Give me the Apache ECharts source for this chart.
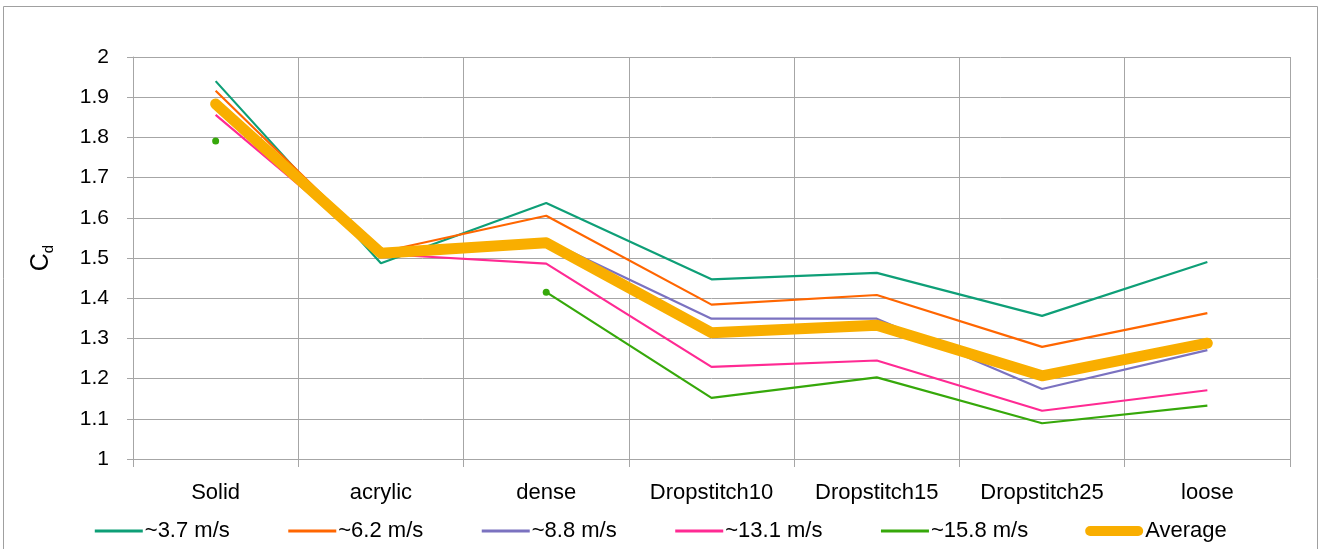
<!DOCTYPE html>
<html>
<head>
<meta charset="utf-8">
<title>Drag coefficient by fabric</title>
<script src="https://cdn.jsdelivr.net/npm/echarts@6/dist/echarts.min.js"></script>
<style>
  html, body { margin: 0; padding: 0; background: #fff; }
  #chart { width: 1320px; height: 549px; }
</style>
</head>
<body>
<div id="chart"></div>
<script>
// Fabric samples along the x axis
const categories = ['Solid', 'acrylic', 'dense', 'Dropstitch10', 'Dropstitch15', 'Dropstitch25', 'loose'];

// Drag coefficient per wind speed
const cd37  = [1.940, 1.487, 1.637, 1.447, 1.463, 1.356, 1.490];
const cd62  = [1.916, 1.515, 1.605, 1.384, 1.408, 1.279, 1.363];
const cd88  = [1.888, 1.512, 1.545, 1.349, 1.349, 1.174, 1.271];
const cd131 = [1.856, 1.510, 1.486, 1.229, 1.245, 1.120, 1.171];
const cd158 = [1.791, null,  1.415, 1.152, 1.203, 1.089, 1.133];
const cdAvg = [1.883, 1.512, 1.538, 1.314, 1.333, 1.207, 1.288];

const seriesNames = ['~3.7 m/s', '~6.2 m/s', '~8.8 m/s', '~13.1 m/s', '~15.8 m/s', 'Average'];
const colors = ['#0E9F77', '#FF6600', '#7B72C0', '#FF2A93', '#36A80A', '#F9AE00'];
const FONT = 'Liberation Sans';
const GRID_GRAY = '#A6A6A6';

function thin(name, data, color) {
  return {
    name, type: 'line', data, symbol: 'none', connectNulls: false,
    lineStyle: { color, width: 2.2 }, itemStyle: { color },
    emphasis: { disabled: true }, animation: false
  };
}

// points that start a segment after a gap get a dot
const cd158Data = cd158.map((v, i) =>
  (i === 0 || i === 2) ? { value: v, symbol: 'circle', symbolSize: 7 } : v);

// legend entries: plain line swatches, the average one thick with round ends
const legendData = seriesNames.map((name, i) => i === 5
  ? {
      name,
      itemStyle: { opacity: 0 },
      lineStyle: { width: 10, cap: 'round', color: colors[i] },
      textStyle: { padding: [0, 0, 0, 2] }
    }
  : {
      name,
      itemStyle: { opacity: 0 },
      lineStyle: { width: 3, color: colors[i] }
    });

const chart = echarts.init(document.getElementById('chart'), null, { renderer: 'canvas' });
chart.setOption({
  backgroundColor: '#fff',
  animation: false,
  textStyle: { fontFamily: FONT },
  graphic: [{
    type: 'rect', silent: true, z: -10,
    shape: { x: 3.5, y: 6.5, width: 1314, height: 600 },
    style: { fill: 'none', stroke: '#A0A0A0', lineWidth: 1 }
  }],
  grid: { left: 133, right: 30, top: 57, bottom: 90, containLabel: false },
  legend: {
    bottom: 2, left: 'center',
    itemWidth: 48, itemHeight: 20, itemGap: 57,
    itemStyle: { opacity: 0 },
    textStyle: { fontFamily: FONT, fontSize: 22, color: '#000', padding: [0, 0, 0, -3] },
    data: legendData
  },
  xAxis: {
    type: 'category', data: categories, boundaryGap: true,
    axisLine: { show: true, lineStyle: { color: GRID_GRAY, width: 1 } },
    axisTick: { show: true, length: 8, lineStyle: { color: GRID_GRAY } },
    axisLabel: { fontFamily: FONT, fontSize: 22, color: '#000', margin: 23, interval: 0 },
    splitLine: { show: true, interval: 0, lineStyle: { color: GRID_GRAY, width: 1 } }
  },
  yAxis: {
    type: 'value', min: 1, max: 2, interval: 0.1,
    name: '{c|C}{d|d}',
    nameLocation: 'middle', nameRotate: 90, nameGap: 77,
    nameTextStyle: {
      rich: {
        c: { fontFamily: FONT, fontSize: 25, color: '#000' },
        d: { fontFamily: FONT, fontSize: 15, color: '#000', padding: [14, 0, 0, 0] }
      }
    },
    axisLine: { show: true, lineStyle: { color: GRID_GRAY, width: 1 } },
    axisTick: { show: true, length: 6, lineStyle: { color: GRID_GRAY } },
    axisLabel: {
      fontFamily: FONT, fontSize: 21, color: '#000', margin: 24,
      formatter: v => String(Math.round(v * 10) / 10)
    },
    splitLine: { show: true, lineStyle: { color: GRID_GRAY, width: 1 } }
  },
  series: [
    thin(seriesNames[0], cd37, colors[0]),
    thin(seriesNames[1], cd62, colors[1]),
    thin(seriesNames[2], cd88, colors[2]),
    thin(seriesNames[3], cd131, colors[3]),
    thin(seriesNames[4], cd158Data, colors[4]),
    {
      name: seriesNames[5], type: 'line', data: cdAvg, symbol: 'none',
      lineStyle: { color: colors[5], width: 11, cap: 'round', join: 'round' },
      itemStyle: { color: colors[5] },
      emphasis: { disabled: true }, animation: false, z: 5
    }
  ]
});
</script>
</body>
</html>
